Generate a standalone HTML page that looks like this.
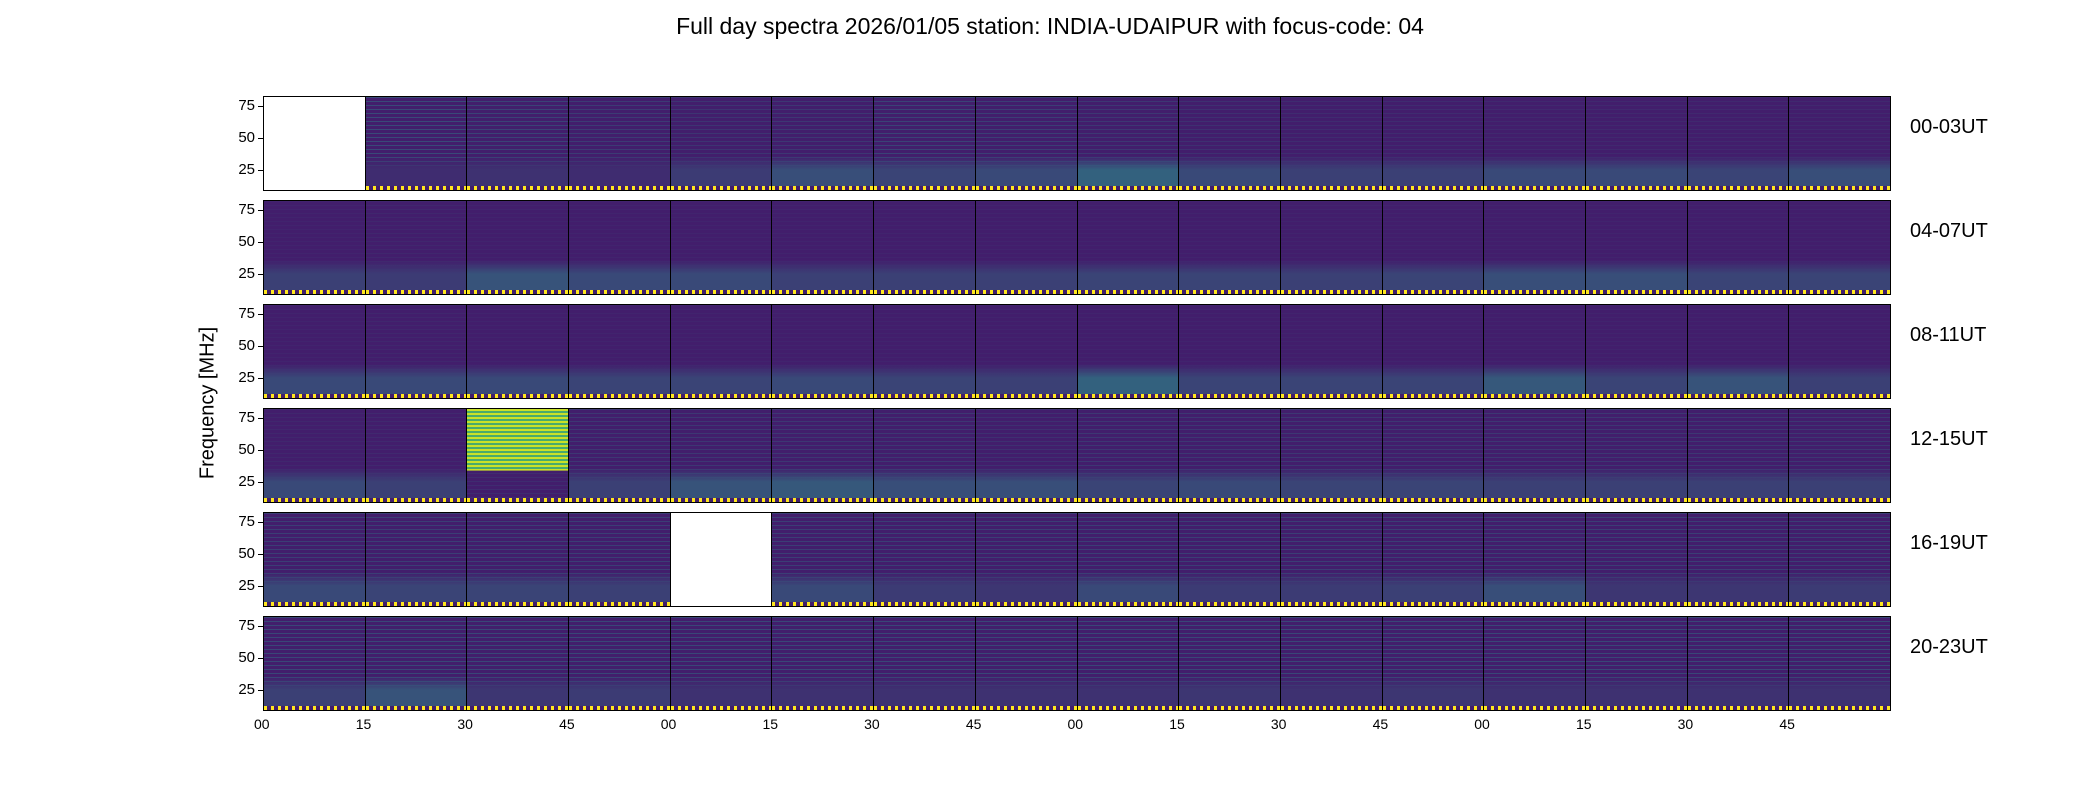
<!DOCTYPE html>
<html><head><meta charset="utf-8">
<style>
body{margin:0;background:#fff;width:2100px;height:800px;overflow:hidden;position:relative;font-family:"Liberation Sans","DejaVu Sans",sans-serif;}
.t{position:absolute;color:#000;white-space:nowrap}
.panel{position:absolute;box-sizing:border-box;border:1px solid #000;overflow:hidden}
.tick{position:absolute;background:#000}
</style></head>
<body>
<div class="t" style="left:0;width:2100px;text-align:center;top:13px;font-size:23px;">Full day spectra 2026/01/05 station: INDIA-UDAIPUR with focus-code: 04</div>
<div class="t" style="left:208px;top:403px;font-size:20px;transform:translate(-50%,-50%) rotate(-90deg);">Frequency [MHz]</div>
<div id="root"></div>
<script>
const rowLabels=["00-03UT","04-07UT","08-11UT","12-15UT","16-19UT","20-23UT"];
const xTickLabels=["00","15","30","45","00","15","30","45","00","15","30","45","00","15","30","45"];
const yTicks=[25,50,75];
// bottom-band brightness per panel (-1 = no data)
const lowBand=[
[-1,.15,.2,.15,.3,.5,.4,.45,.7,.45,.35,.35,.45,.45,.4,.5],
[.35,.3,.55,.45,.45,.35,.35,.35,.4,.4,.35,.4,.5,.5,.4,.4],
[.45,.45,.45,.4,.4,.45,.4,.35,.7,.4,.4,.4,.6,.4,.55,.35],
[.45,.35,.95,.35,.55,.6,.5,.5,.4,.45,.4,.4,.35,.35,.35,.35],
[.45,.4,.4,.35,-1,.45,.3,.25,.45,.3,.3,.35,.5,.25,.25,.3],
[.35,.55,.25,.3,.2,.2,.2,.2,.2,.25,.2,.25,.2,.2,.2,.2]];
// horizontal stripe strength in upper band
const stripes=[
[0,.6,.5,.4,.3,.35,.5,.45,.35,.25,.2,.2,.15,.15,.15,.15],
[.08,.12,.08,.08,.08,.08,.08,.08,.08,.08,.08,.08,.08,.08,.08,.08],
[.08,.12,.08,.08,.08,.08,.08,.08,.08,.08,.08,.08,.08,.08,.08,.08],
[.12,.15,.2,.35,.35,.35,.35,.25,.35,.35,.35,.35,.35,.35,.35,.35],
[.45,.45,.45,.45,0,.45,.45,.45,.45,.45,.45,.45,.45,.45,.45,.45],
[.55,.55,.55,.55,.55,.55,.55,.55,.55,.55,.55,.55,.55,.55,.55,.55]];
const fMin=9,fMax=83;
const L=263,R=1890,T=96,H=95,P=104,N=16;
const W=(R-L)/N;
const root=document.getElementById('root');
function yPos(r,f){return T+r*P+H-(f-fMin)/(fMax-fMin)*H;}
function mix(a,b,t){return a.map((v,i)=>Math.round(v+(b[i]-v)*t));}
const dark=[66,30,108],teal=[40,150,140],yel=[200,225,40];
rowLabels.forEach((lab,r)=>{
  const d=document.createElement('div');
  d.className='t';d.textContent=lab;
  
  
  d.style.left='1910px';d.style.top=(T+r*P+20)+'px';d.style.fontSize='20px';
  root.appendChild(d);
  yTicks.forEach(v=>{
    const y=yPos(r,v);
    const tl=document.createElement('div');
    tl.className='t';tl.textContent=v;
    
    
    tl.style.right=(2100-L+8)+'px';tl.style.top=(y-9)+'px';tl.style.fontSize='15px';
    root.appendChild(tl);
    const tk=document.createElement('div');tk.className='tick';
    
    
    tk.style.left=(L-5)+'px';tk.style.top=(y-0.5)+'px';tk.style.width='5px';tk.style.height='1px';
    root.appendChild(tk);
  });
  for(let c=0;c<N;c++){
    const p=document.createElement('div');p.className='panel';
    
    
    p.style.left=(L+c*W)+'px';p.style.top=(T+r*P)+'px';p.style.width=(W+1)+'px';p.style.height=H+'px';
    const lv=lowBand[r][c];
    if(lv<0){p.style.background='#fff';}
    else{
      const s=stripes[r][c];
      const sc=mix(dark,teal,s*0.6);
      const bg=`rgb(${dark})`;
      const dots=`repeating-linear-gradient(90deg, rgb(255,231,30) 0 3px, rgb(${dark}) 3px 7px) left bottom/100% 4px no-repeat,`;
      let band;
      if(lv>0.8){
        const top=H-(35-fMin)/(fMax-fMin)*H;
        band=`repeating-linear-gradient(to bottom, rgb(${yel}) 0 2px, rgb(70,170,110) 2px 4px) left top/100% ${top}px no-repeat,`;
      } else {
        const lc=mix(dark,teal,lv*0.8);
        band=`linear-gradient(to top, rgba(0,0,0,0) 0 4px, rgb(${lc}) 4px 20px, rgba(0,0,0,0) 34px),`;
      }
      p.style.background=dots+band+`repeating-linear-gradient(to bottom, rgb(${sc}) 0 1px, ${bg} 1px 4px)`;
    }
    root.appendChild(p);
  }
});
xTickLabels.forEach((t,i)=>{
  const x=L+i*W;
  const d=document.createElement('div');d.className='t';d.textContent=t;
  
  
  d.style.left=(x-9)+'px';d.style.top='716px';d.style.fontSize='14px';
  root.appendChild(d);
});
</script>
</body></html>
